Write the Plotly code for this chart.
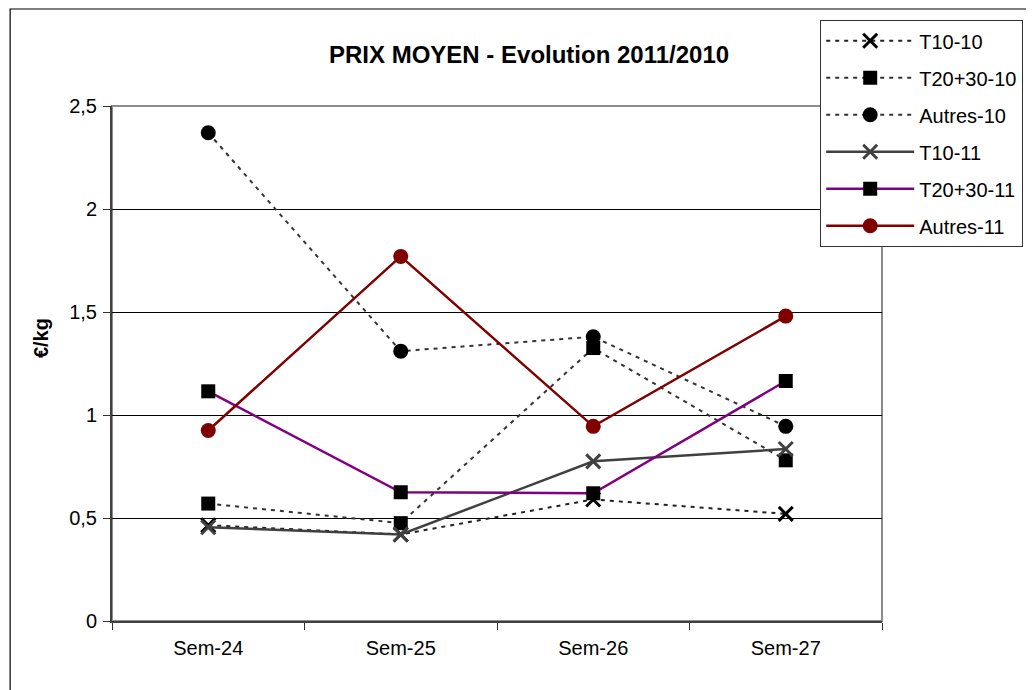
import plotly.graph_objects as go

categories = ["Sem-24", "Sem-25", "Sem-26", "Sem-27"]

t10_10 = [0.465, 0.42, 0.59, 0.52]
t2030_10 = [0.57, 0.475, 1.325, 0.78]
autres_10 = [2.37, 1.31, 1.38, 0.945]
t10_11 = [0.455, 0.42, 0.775, 0.835]
t2030_11 = [1.115, 0.625, 0.62, 1.165]
autres_11 = [0.925, 1.77, 0.945, 1.48]

series_names = ["T10-10", "T20+30-10", "Autres-10", "T10-11", "T20+30-11", "Autres-11"]
y_ticks = [0, 0.5, 1, 1.5, 2, 2.5]

OFF = 8  # page body margin
W, H = 1034 - OFF, 690 - OFF
L, R, T, B = 112 - OFF, 883 - OFF, 106 - OFF, 621 - OFF
pw, ph = R - L, B - T

def px(x):
    return (x - OFF - L) / pw

def py(y):
    return (B - (y - OFF)) / ph

FONT = "Arial, Liberation Sans, sans-serif"
DASH = "4px,5px"

fig = go.Figure()

styles = [
    (t10_10, dict(color="#222222", width=2, dash=DASH), dict(symbol="x-thin", size=14, color="black", line=dict(width=3, color="black"))),
    (t2030_10, dict(color="#333333", width=2, dash=DASH), dict(symbol="square", size=14, color="black", line=dict(width=0))),
    (autres_10, dict(color="#333333", width=2, dash=DASH), dict(symbol="circle", size=15, color="black", line=dict(width=0))),
    (t10_11, dict(color="#404040", width=2.5), dict(symbol="x-thin", size=14, color="#404040", line=dict(width=3, color="#404040"))),
    (t2030_11, dict(color="#800080", width=2.5), dict(symbol="square", size=14, color="black", line=dict(width=0))),
    (autres_11, dict(color="#800000", width=2.5), dict(symbol="circle", size=15, color="#800000", line=dict(width=0))),
]

for i, (vals, ln, mk) in enumerate(styles):
    fig.add_trace(go.Scatter(
        x=categories, y=vals, name=series_names[i], mode="lines+markers",
        line=ln, marker=mk, legendgroup=f"g{i}", cliponaxis=False,
    ))

shapes = [
    # outer chart border
    dict(type="rect", xref="paper", yref="paper",
         x0=px(10), x1=px(1060), y0=py(720), y1=py(9),
         line=dict(color="black", width=1.2), layer="below"),
    # plot area border (gray)
    dict(type="rect", xref="paper", yref="paper",
         x0=0, x1=1, y0=0, y1=1,
         line=dict(color="#8c8c8c", width=2), layer="below"),
]

annotations = [
    dict(text="<b>PRIX MOYEN - Evolution 2011/2010</b>", xref="paper", yref="paper",
         x=px(530), y=py(55), showarrow=False, xanchor="center", yanchor="middle",
         font=dict(family=FONT, size=24, color="black")),
    dict(text="<b>€/kg</b>", xref="paper", yref="paper",
         x=px(41), y=py(338), showarrow=False, xanchor="center", yanchor="middle",
         textangle=-90, font=dict(family=FONT, size=20, color="black")),
]

fig.update_layout(
    width=W, height=H,
    margin=dict(l=L, r=W - R, t=T, b=H - B, pad=0),
    paper_bgcolor="white", plot_bgcolor="white",
    separators=", ",
    font=dict(family=FONT, size=20, color="black"),
    showlegend=True,
    legend=dict(
        x=px(820), y=py(20), xanchor="left", yanchor="top",
        bgcolor="white", bordercolor="#333333", borderwidth=1.2,
        font=dict(family=FONT, size=20, color="black"),
        itemwidth=88, traceorder="grouped", tracegroupgap=8,
    ),
    xaxis=dict(
        type="category", range=[-0.5, 3.5], tickson="boundaries",
        ticks="outside", ticklen=7, tickcolor="#333333", tickwidth=1.2,
        showgrid=False, showline=True, linecolor="#404040", linewidth=2,
        tickfont=dict(family=FONT, size=20, color="black"), zeroline=False,
        ticklabelstandoff=8,
    ),
    yaxis=dict(
        range=[0, 2.5], tickvals=y_ticks, tickformat=".1~f",
        ticks="outside", ticklen=7, tickcolor="#333333", tickwidth=1.2,
        showgrid=True, gridcolor="black", gridwidth=1,
        showline=True, linecolor="#404040", linewidth=2,
        tickfont=dict(family=FONT, size=20, color="black"), zeroline=False,
        ticklabelstandoff=2,
    ),
    shapes=shapes,
    annotations=annotations,
)

fig.write_html("out.html")
